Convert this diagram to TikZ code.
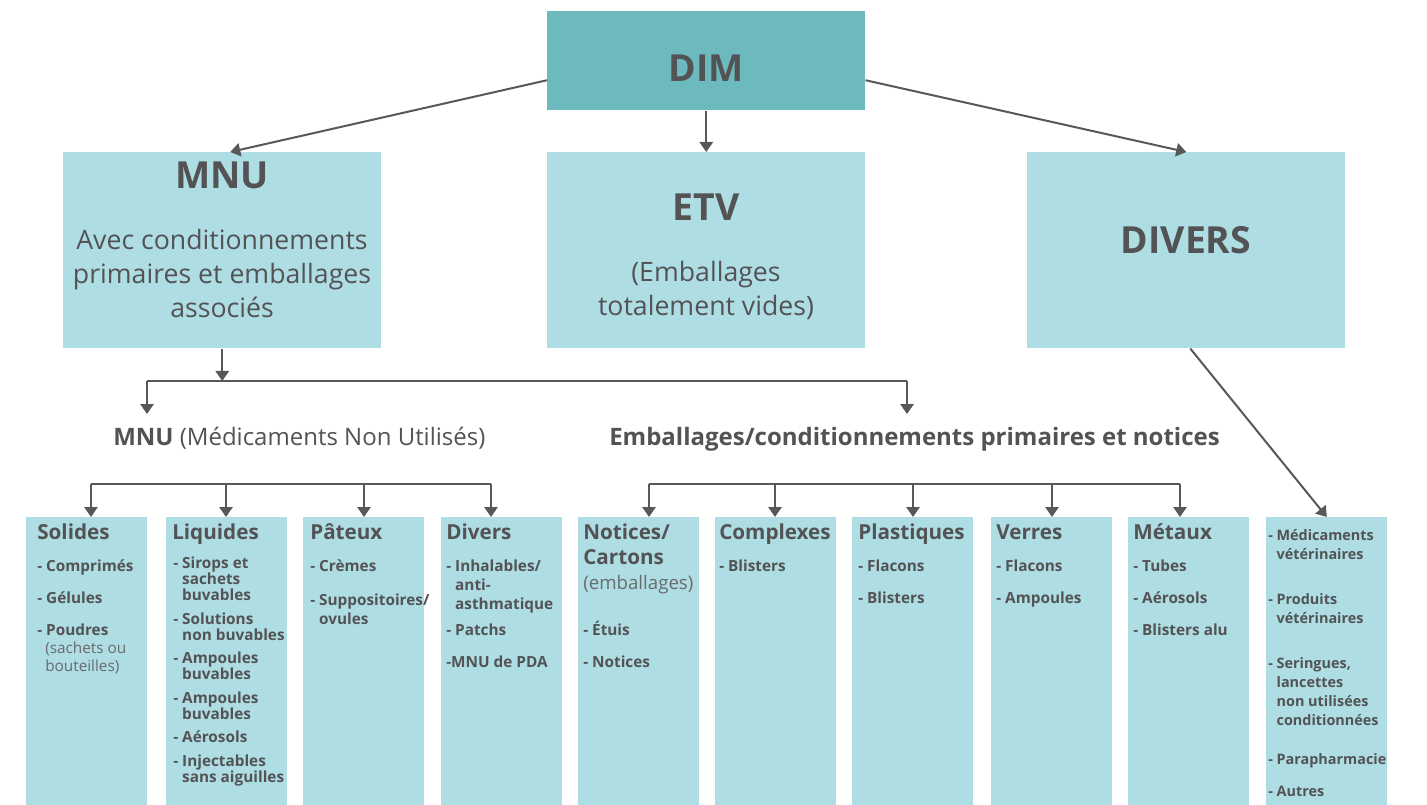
\documentclass[tikz,border=0pt]{standalone}
\usepackage{fontspec}
\setmainfont{Open Sans}
\usetikzlibrary{arrows.meta}
\definecolor{dimc}{HTML}{6CBABD}
\definecolor{boxc}{HTML}{AEDDE3}
\definecolor{txt}{HTML}{535355}
\definecolor{soft}{HTML}{6A6A6C}
\definecolor{lnc}{HTML}{58585A}
\newcommand{\hang}[1]{\begin{tabular}[t]{@{}l@{}}#1\end{tabular}}
\begin{document}
\begin{tikzpicture}[x=0.75pt,y=-0.75pt,
  arr/.style={draw=lnc, line width=1.5pt, -{Triangle[length=7.5pt,width=10pt]}},
  ln/.style={draw=lnc, line width=1.5pt},
  big/.style={fill=boxc, anchor=north west, minimum width=238.5pt, minimum height=147pt, inner sep=0pt},
  cat/.style={fill=boxc, anchor=north west, minimum width=90.75pt, minimum height=216pt, inner sep=0pt},
  hd/.style={anchor=base, inner sep=0pt, text=txt, font=\fontsize{28}{32}\selectfont\bfseries},
  sub/.style={anchor=base, inner sep=0pt, text=txt, font=\fontsize{20}{24}\selectfont},
  lab/.style={anchor=base west, inner sep=0pt, text=txt, font=\fontsize{18}{21}\selectfont},
  ttl/.style={anchor=base west, inner sep=0pt, text=txt, font=\fontsize{15.5}{19}\selectfont\bfseries},
  itm/.style={anchor=base west, inner sep=0pt, text=txt, font=\fontsize{11.5}{12}\selectfont\bfseries},
  itw/.style={anchor=base west, inner sep=0pt, text=txt, font=\fontsize{11.5}{14.25}\selectfont\bfseries},
  its/.style={anchor=base west, inner sep=0pt, text=txt, font=\fontsize{10.8}{14.25}\selectfont\bfseries},
  rem/.style={anchor=base west, inner sep=0pt, text=soft, font=\fontsize{11.5}{13.5}\selectfont}
]
\useasboundingbox (0,0) rectangle (1427,805);

% top boxes
\node[big, fill=dimc, minimum height=74.25pt] (dim) at (547,11) {};
\node[big] (mnu) at (63,152) {};
\node[big] (etv) at (547,152) {};
\node[big] (dvs) at (1027,152) {};

\node[hd] (dimt) at (706,82) {DIM};
\node[hd] (mnut) at (222,189) {MNU};
\node[sub] (mnu1) at (222,250) {Avec conditionnements};
\node[sub] (mnu2) at (222,284) {primaires et emballages};
\node[sub] (mnu3) at (222,318) {associés};
\node[hd] (etvt) at (706,221) {ETV};
\node[sub] (etv1) at (706,282) {(Emballages};
\node[sub] (etv2) at (706,316) {totalement vides)};
\node[hd] (dvst) at (1186,254) {DIVERS};

% arrows from DIM
\draw[arr] ([yshift=-14.6pt]dim.west) -- ([xshift=6pt]mnu.north);
\draw[arr] (dim.south) -- (etv.north);
\draw[arr] ([yshift=-14.6pt]dim.east) -- (dvs.north);

% labels
\node[lab] (lmnu) at (113,445) {\textbf{MNU} (Médicaments Non Utilisés)};
\node[lab] (lemb) at (609,445) {\textbf{Emballages/conditionnements primaires et notices}};

\coordinate (ja) at (147,381);
\coordinate (jb) at (907,381);
\coordinate (ta) at (147,414);
\coordinate (tb) at (907,414);
\draw[arr] (mnu.south) -- (mnu.south |- ja);
\draw[ln] (ja) -- (jb);
\draw[arr] (ja) -- (ta);
\draw[arr] (jb) -- (tb);

% bottom boxes
\node[cat] (sol) at (26,517) {};
\node[cat] (liq) at (166,517) {};
\node[cat] (pat) at (303,517) {};
\node[cat] (dvr) at (441,517) {};
\node[cat] (ntc) at (578,517) {};
\node[cat] (cpx) at (715,517) {};
\node[cat] (pla) at (852,517) {};
\node[cat] (ver) at (991,517) {};
\node[cat] (met) at (1128,517) {};
\node[cat] (aut) at (1266,517) {};

% buses
\coordinate (b1) at (91,484);
\coordinate (b2) at (226,484);
\coordinate (b3) at (364,484);
\coordinate (b4) at (491,484);
\coordinate (c1) at (649,484);
\coordinate (c2) at (775,484);
\coordinate (c3) at (913,484);
\coordinate (c4) at (1052,484);
\coordinate (c5) at (1180,484);
\draw[ln] (b1) -- (b4);
\draw[ln] (c1) -- (c5);
\draw[arr] (b1) -- (b1 |- sol.north);
\draw[arr] (b2) -- (b2 |- liq.north);
\draw[arr] (b3) -- (b3 |- pat.north);
\draw[arr] (b4) -- (b4 |- dvr.north);
\draw[arr] (c1) -- (c1 |- ntc.north);
\draw[arr] (c2) -- (c2 |- cpx.north);
\draw[arr] (c3) -- (c3 |- pla.north);
\draw[arr] (c4) -- (c4 |- ver.north);
\draw[arr] (c5) -- (c5 |- met.north);
\draw[arr] ([xshift=3pt]dvs.south) -- (aut.north);

% Solides
\node[ttl] (solt) at (37,539) {Solides};
\node[itm] (sol1) at (37,571) {- Comprimés};
\node[itm] (sol2) at (37,603) {- Gélules};
\node[itm] (sol3) at (37,635) {- Poudres};
\node[rem] (sol4) at (45,653) {\hang{(sachets ou\\bouteilles)}};

% Liquides
\node[ttl] (liqt) at (172,539) {Liquides};
\node[itm] (liq1) at (173,568) {- \hang{Sirops et\\sachets\\buvables}};
\node[itm] (liq2) at (173,624) {- \hang{Solutions\\non buvables}};
\node[itm] (liq3) at (173,663) {- \hang{Ampoules\\buvables}};
\node[itm] (liq4) at (173,703) {- \hang{Ampoules\\buvables}};
\node[itm] (liq5) at (173,742) {- Aérosols};
\node[itm] (liq6) at (173,766) {- \hang{Injectables\\sans aiguilles}};

% Pateux
\node[ttl] (patt) at (310,539) {Pâteux};
\node[itm] (pat1) at (310,571) {- Crèmes};
\node[itw] (pat2) at (310,605) {- \hang{Suppositoires/\\ovules}};

% Divers
\node[ttl] (dvrt) at (446,539) {Divers};
\node[itw] (dvr1) at (446,571) {- \hang{Inhalables/\\anti-\\asthmatique}};
\node[itm] (dvr2) at (446,635) {- Patchs};
\node[itm] (dvr3) at (446,667) {-MNU de PDA};

% Notices/Cartons
\node[ttl] (ntct) at (583,539) {Notices/};
\node[ttl] (ntct2) at (583,564) {Cartons};
\node[rem, font=\fontsize{14}{16}\selectfont] (ntc0) at (583,589) {(emballages)};
\node[itm] (ntc1) at (583,635) {- Étuis};
\node[itm] (ntc2) at (583,667) {- Notices};

% Complexes
\node[ttl] (cpxt) at (719,539) {Complexes};
\node[itm] (cpx1) at (719,571) {- Blisters};

% Plastiques
\node[ttl] (plat) at (858,539) {Plastiques};
\node[itm] (pla1) at (858,571) {- Flacons};
\node[itm] (pla2) at (858,603) {- Blisters};

% Verres
\node[ttl] (vert) at (996,539) {Verres};
\node[itm] (ver1) at (996,571) {- Flacons};
\node[itm] (ver2) at (996,603) {- Ampoules};

% Metaux
\node[ttl] (mett) at (1133,539) {Métaux};
\node[itm] (met1) at (1133,571) {- Tubes};
\node[itm] (met2) at (1133,603) {- Aérosols};
\node[itm] (met3) at (1133,635) {- Blisters alu};

% Divers items
\node[its] (aut1) at (1268,540) {- \hang{Médicaments\\vétérinaires}};
\node[its] (aut2) at (1268,604) {- \hang{Produits\\vétérinaires}};
\node[its] (aut3) at (1268,668) {- \hang{Seringues,\\lancettes\\non utilisées\\conditionnées}};
\node[its] (aut4) at (1268,764) {- Parapharmacie};
\node[its] (aut5) at (1268,796) {- Autres};
\end{tikzpicture}
\end{document}
